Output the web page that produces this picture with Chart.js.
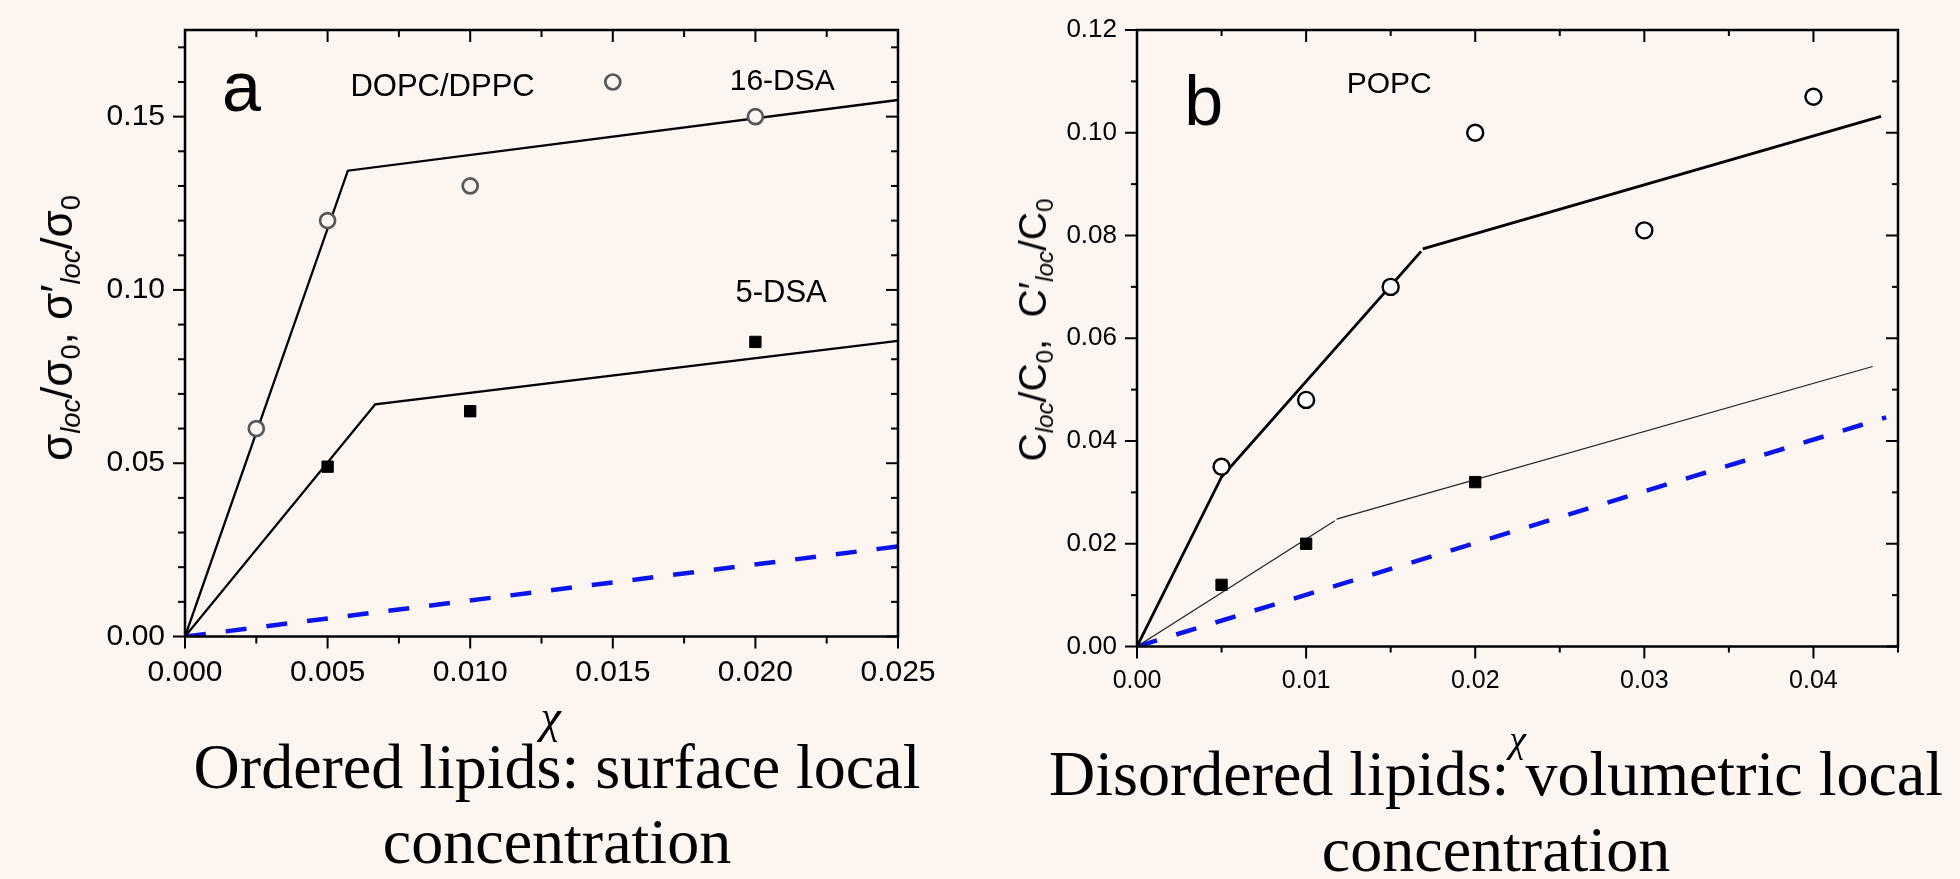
<!DOCTYPE html>
<html>
<head>
<meta charset="utf-8">
<script src="https://cdn.jsdelivr.net/npm/chart.js@4.4.0/dist/chart.umd.min.js"></script>
<style>
  html, body { margin: 0; padding: 0; background: #fdf5ef; overflow: hidden; }
  #page { position: relative; width: 1960px; height: 879px; }
  canvas { position: absolute; top: 0; }
  #chartA { left: 0; }
  #chartB { left: 980px; }
  .ytitle { position: absolute; white-space: nowrap; color: #000;
            font-family: 'Liberation Sans', Arial, sans-serif;
            transform: translate(-50%, -50%) rotate(-90deg); }
  .ytitle .s { font-size: 0.62em; position: relative; top: 0.3em; }
  .ytitle .i { font-style: italic; }
  .caption { position: absolute; color: #000; text-align: center;
             font-family: 'Liberation Serif', 'Times New Roman', serif; font-size: 64px; }
</style>
</head>
<body>
<div id="page">
  <canvas id="chartA" width="980" height="879"></canvas>
  <canvas id="chartB" width="980" height="879"></canvas>
  <div class="ytitle" style="left:57px; top:328px; font-size:44px">σ<span class="s i">loc</span>/σ<span class="s">0</span>, σ′<span class="s i">loc</span>/σ<span class="s">0</span></div>
  <div class="ytitle" style="left:1033px; top:330px; font-size:39px">C<span class="s i">loc</span>/C<span class="s">0</span>,&nbsp; C′<span class="s i">loc</span>/C<span class="s">0</span></div>
  <div class="caption" style="left:107px; top:729px; width:900px; line-height:75px">Ordered lipids: surface local<br>concentration</div>
  <div class="caption" style="left:996px; top:736px; width:1000px; line-height:76px">Disordered lipids: volumetric local<br>concentration</div>
</div>
<script>
// ---- panel a : ordered lipids (DOPC/DPPC) ----
const xA_dsa16 = [0.0025, 0.005, 0.010, 0.015, 0.020];
const yA_dsa16 = [0.060, 0.120, 0.130, 0.160, 0.150];
const xA_dsa5 = [0.005, 0.010, 0.020];
const yA_dsa5 = [0.049, 0.065, 0.085];
const xA_fit16 = [0, 0.00571, 0.025];
const yA_fit16 = [0, 0.1344, 0.1548];
const xA_fit5 = [0, 0.00667, 0.025];
const yA_fit5 = [0, 0.0670, 0.0853];
const xA_ideal = [0, 0.025];
const yA_ideal = [0, 0.026];
const xTicksA = [0, 0.005, 0.010, 0.015, 0.020, 0.025];
const xMinorA = [0.0025, 0.0075, 0.0125, 0.0175, 0.0225];
const yTicksA = [0, 0.05, 0.10, 0.15];
const yMinorA = [0.01, 0.02, 0.03, 0.04, 0.06, 0.07, 0.08, 0.09, 0.11, 0.12, 0.13, 0.14, 0.16, 0.17];

// ---- panel b : disordered lipids (POPC) ----
const xB_open = [0.005, 0.010, 0.015, 0.020, 0.030, 0.040];
const yB_open = [0.035, 0.048, 0.070, 0.100, 0.081, 0.107];
const xB_sq = [0.005, 0.010, 0.020];
const yB_sq = [0.012, 0.020, 0.032];
const xB_thick1 = [0, 0.005, 0.0168];
const yB_thick1 = [0, 0.033, 0.0769];
const xB_thick2 = [0.0169, 0.0440];
const yB_thick2 = [0.0774, 0.1032];
const xB_thin1 = [0, 0.0117];
const yB_thin1 = [0, 0.0245];
const xB_thin2 = [0.0118, 0.0435];
const yB_thin2 = [0.0248, 0.0545];
const xB_ideal = [0, 0.0443];
const yB_ideal = [0, 0.0446];
const xTicksB = [0, 0.01, 0.02, 0.03, 0.04];
const xMinorB = [0.005, 0.015, 0.025, 0.035, 0.045];
const yTicksB = [0, 0.02, 0.04, 0.06, 0.08, 0.10, 0.12];
const yMinorB = [0.01, 0.03, 0.05, 0.07, 0.09, 0.11];

const BG = '#fdf5ef';
const BLUE = '#0a14f0';
const SANS = "'Liberation Sans', Arial, sans-serif";

function pts(xs, ys) {
    return xs.map((x, i) => ({x: x, y: ys[i]}));
}

function lineSet(xs, ys, width, color, dash) {
    return {data: pts(xs, ys), showLine: true, pointRadius: 0, borderColor: color,
            borderWidth: width, borderDash: dash || [], fill: false};
}

// frame, minor/major tick marks (out on left/bottom, in on top/right) and text notes
const frameTicks = {
    id: 'frameTicks',
    afterDraw(chart, args, o) {
        const ctx = chart.ctx, a = chart.chartArea;
        const sx = chart.scales.x, sy = chart.scales.y;
        ctx.save();
        ctx.strokeStyle = '#000';
        ctx.lineWidth = 2;
        const seg = (x1, y1, x2, y2) => { ctx.beginPath(); ctx.moveTo(x1, y1); ctx.lineTo(x2, y2); ctx.stroke(); };
        const xs = o.xMajor.map(v => [v, o.major]).concat(o.xMinor.map(v => [v, o.minor]));
        xs.forEach(([v, len]) => {
            const p = sx.getPixelForValue(v);
            seg(p, a.bottom, p, a.bottom + len);
            seg(p, a.top, p, a.top + len);
        });
        const ys = o.yMajor.map(v => [v, o.major]).concat(o.yMinor.map(v => [v, o.minor]));
        ys.forEach(([v, len]) => {
            const p = sy.getPixelForValue(v);
            seg(a.left - len, p, a.left, p);
            seg(a.right - len, p, a.right, p);
        });
        ctx.lineWidth = 2.5;
        ctx.strokeRect(a.left, a.top, a.right - a.left, a.bottom - a.top);
        ctx.fillStyle = '#000';
        ctx.textAlign = 'left';
        ctx.textBaseline = 'alphabetic';
        o.notes.forEach(n => {
            ctx.font = n.size + 'px ' + SANS;
            ctx.fillText(n.text, sx.getPixelForValue(n.x), sy.getPixelForValue(n.y));
        });
        ctx.restore();
    }
};

function makeChart(id, cfg) {
    const tickFont = size => ({family: SANS, size: size});
    return new Chart(document.getElementById(id), {
        type: 'scatter',
        data: {datasets: cfg.datasets},
        options: {
            responsive: false,
            animation: false,
            events: [],
            layout: {padding: {left: 0, top: 30, right: cfg.padRight, bottom: 0}},
            plugins: {
                legend: {display: false},
                tooltip: {enabled: false},
                frameTicks: cfg.ticks
            },
            scales: {
                x: {
                    min: cfg.xMin, max: cfg.xMax,
                    border: {display: false},
                    grid: {display: false, drawTicks: false},
                    ticks: {padding: cfg.xPad, color: '#000', font: tickFont(cfg.xFont), maxRotation: 0,
                            autoSkip: false, callback: v => v.toFixed(cfg.xDec)},
                    afterBuildTicks: s => { s.ticks = cfg.ticks.xMajor.map(v => ({value: v})); },
                    afterFit: s => { s.height = cfg.xHeight; s.paddingLeft = 0; s.paddingRight = 0; },
                    title: {display: true, text: cfg.chiText, color: '#000',
                            font: {family: "'Liberation Serif', serif", style: 'italic', size: cfg.chiSize},
                            padding: {top: 0, bottom: cfg.chiPad}}
                },
                y: {
                    min: cfg.yMin, max: cfg.yMax,
                    border: {display: false},
                    grid: {display: false, drawTicks: false},
                    ticks: {padding: 20, color: '#000', font: tickFont(cfg.yFont),
                            autoSkip: false, callback: v => v.toFixed(2)},
                    afterBuildTicks: s => { s.ticks = cfg.ticks.yMajor.map(v => ({value: v})); },
                    // keep the label padding from pushing the frame down
                    afterFit: s => { s.width = cfg.yWidth; s.paddingTop = 0; s.paddingBottom = 0; }
                }
            }
        },
        plugins: [frameTicks]
    });
}

makeChart('chartA', {
    xMin: 0, xMax: 0.025, yMin: 0, yMax: 0.175,
    padRight: 82, xHeight: 242.5, yWidth: 185,
    xPad: 18, xFont: 30, yFont: 30, xDec: 3,
    chiText: '\u2009\u2009χ', chiSize: 46, chiPad: 131,
    datasets: [
        {data: pts(xA_dsa16, yA_dsa16), pointStyle: 'circle', pointRadius: 7.5, borderWidth: 2.7,
         borderColor: '#575757', backgroundColor: BG},
        {data: pts(xA_dsa5, yA_dsa5), pointStyle: 'rect', pointRadius: 8, borderWidth: 1,
         borderColor: '#000', backgroundColor: '#000'},
        lineSet(xA_fit16, yA_fit16, 2.3, '#000'),
        lineSet(xA_fit5, yA_fit5, 2.3, '#000'),
        lineSet(xA_ideal, yA_ideal, 4.5, BLUE, [21, 20])
    ],
    ticks: {
        xMajor: xTicksA, xMinor: xMinorA, yMajor: yTicksA, yMinor: yMinorA, major: 12, minor: 7,
        notes: [
            {text: 'a', x: 0.0013, y: 0.1517, size: 70},
            {text: 'DOPC/DPPC', x: 0.0058, y: 0.1561, size: 31},
            {text: '16-DSA', x: 0.0191, y: 0.1578, size: 30},
            {text: '5-DSA', x: 0.0193, y: 0.0965, size: 31}
        ]
    }
});

makeChart('chartB', {
    xMin: 0, xMax: 0.045, yMin: 0, yMax: 0.12,
    padRight: 62, xHeight: 232.5, yWidth: 157,
    xPad: 20, xFont: 25, yFont: 26, xDec: 2,
    chiText: 'χ', chiSize: 38, chiPad: 114,
    datasets: [
        {data: pts(xB_open, yB_open), pointStyle: 'circle', pointRadius: 8, borderWidth: 2.4,
         borderColor: '#000', backgroundColor: '#fff'},
        {data: pts(xB_sq, yB_sq), pointStyle: 'rect', pointRadius: 8, borderWidth: 1,
         borderColor: '#000', backgroundColor: '#000'},
        lineSet(xB_thick1, yB_thick1, 2.8, '#000'),
        lineSet(xB_thick2, yB_thick2, 2.8, '#000'),
        lineSet(xB_thin1, yB_thin1, 1.2, '#222'),
        lineSet(xB_thin2, yB_thin2, 1.2, '#222'),
        lineSet(xB_ideal, yB_ideal, 4.5, BLUE, [21, 20])
    ],
    ticks: {
        xMajor: xTicksB, xMinor: xMinorB, yMajor: yTicksB, yMinor: yMinorB, major: 12, minor: 6,
        notes: [
            {text: 'b', x: 0.0028, y: 0.1016, size: 70},
            {text: 'POPC', x: 0.0124, y: 0.1078, size: 30}
        ]
    }
});
</script>
</body>
</html>
